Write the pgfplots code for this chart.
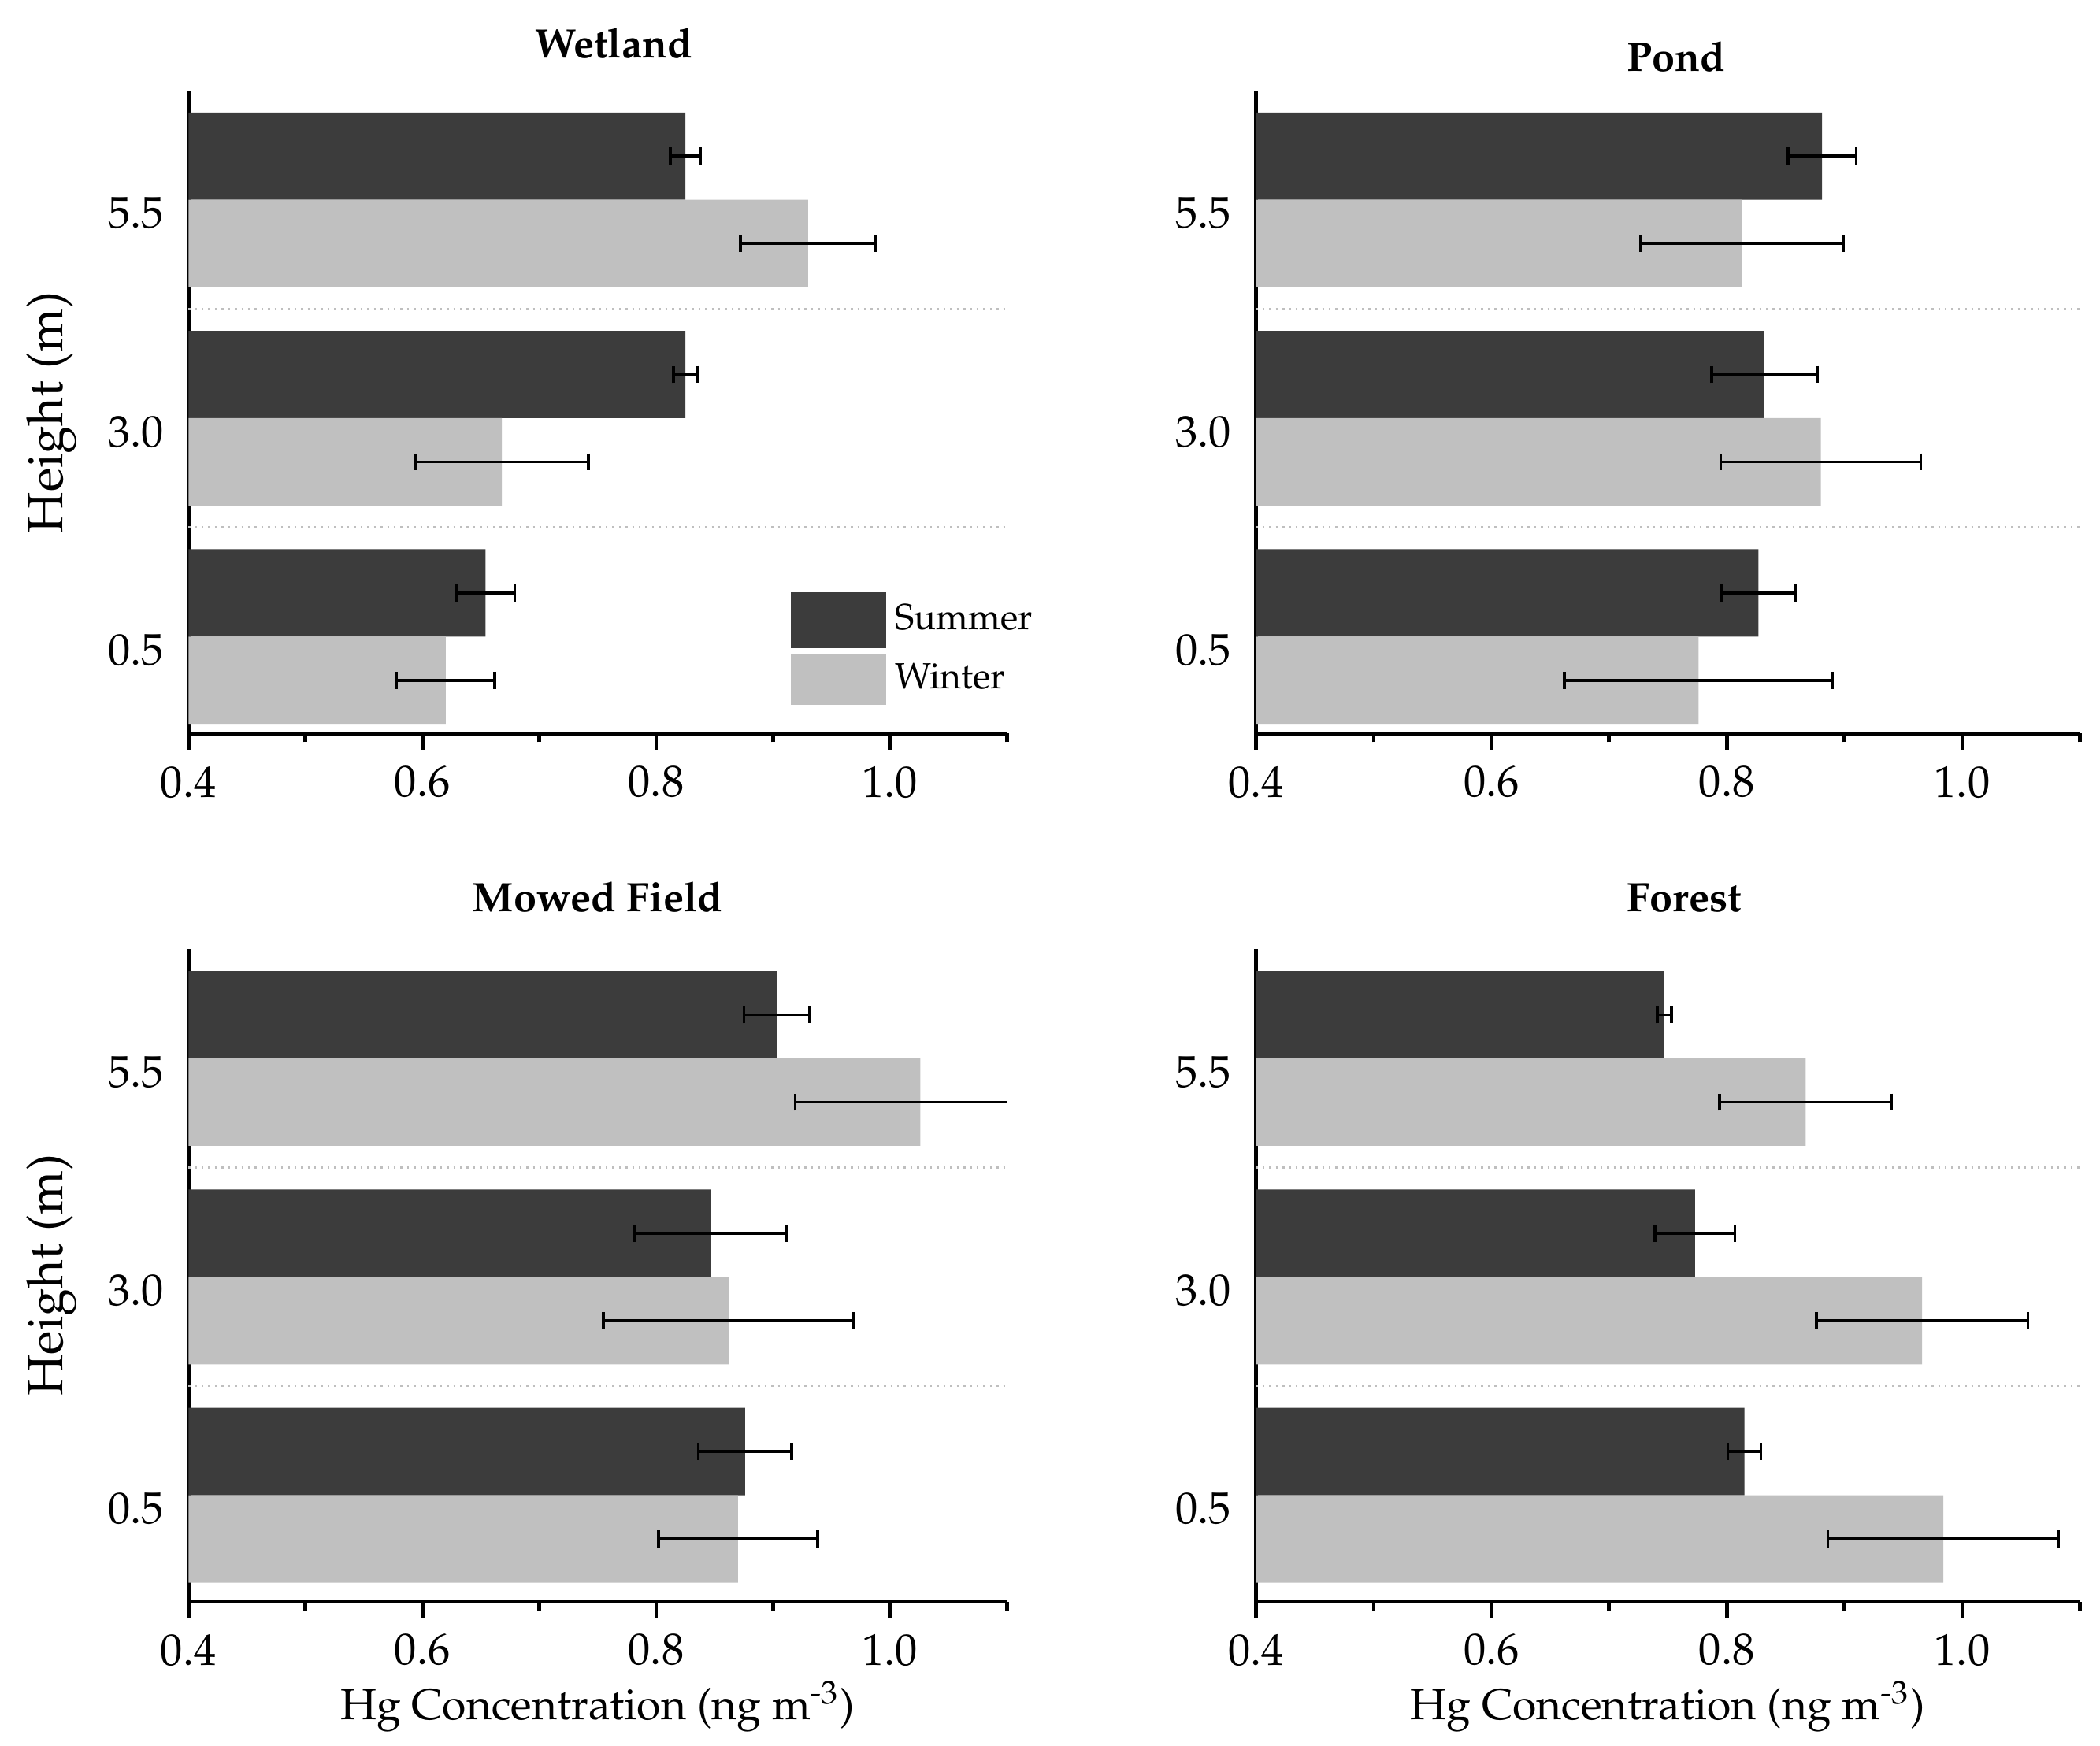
\documentclass[border=0pt]{standalone}
\usepackage[T1]{fontenc}
\usepackage{mathpazo}
\usepackage{pgfplots}
\pgfplotsset{compat=1.18}

\definecolor{summer}{RGB}{60,60,60}
\definecolor{winter}{RGB}{192,192,192}

\tikzset{titlefont/.style={font=\bfseries\fontsize{8.7}{10}\selectfont}}

\pgfplotsset{
  hgpanel/.style={
    scale only axis,
    xbar, bar width=0.4,
    xmin=0.4, xmax=1.1,
    axis x line*=bottom, axis y line*=left,
    axis line style={line width=0.8pt},
    xtick={0.4,0.6,0.8,1.0}, minor xtick={0.5,0.7,0.9,1.1},
    tick align=outside, major tick length=0.12cm, minor tick length=0.065cm,
    xtick style={black, line width=0.8pt},
    xticklabel style={/pgf/number format/.cd, fixed, fixed zerofill, precision=1},
    ticklabel style={font=\fontsize{9.4}{11}\selectfont},
    ytick={0,1,2}, yticklabels={0.5,3.0,5.5},
    ytick style={draw=none},
    yticklabel style={yshift=-0.1cm, xshift=0.06cm},
    extra y ticks={0.5,1.5}, extra y tick labels={},
    extra y tick style={grid=major, major grid style={gray!50, densely dotted, line width=0.4pt}},
    ylabel style={font=\fontsize{10.5}{12}\selectfont, at={(axis description cs:-0.167,0.5)}, anchor=center},
    xlabel style={font=\fontsize{9.2}{11}\selectfont, at={(axis description cs:0.5,-0.16)}, anchor=center},
  },
  errstyle/.style={
    error bars/.cd, x dir=both, x explicit, error mark=|,
    error bar style={line width=0.6pt, black},
    error mark options={black, mark size=1.8pt, line width=0.6pt}},
  summerbar/.style={fill=summer, draw=none, bar shift=0.2, errstyle},
  winterbar/.style={fill=winter, draw=none, bar shift=-0.2, errstyle},
}

\begin{document}
\begin{tikzpicture}
\useasboundingbox (0,0) rectangle (15.60,12.97);

% Wetland
\begin{axis}[hgpanel, at={(1.40cm,7.52cm)}, anchor=south west,
  width=6.08cm, height=4.77cm, ymin=-0.444, ymax=2.496,
  title=Wetland,
  title style={titlefont, at={(axis description cs:0.52,1)}, anchor=south, yshift=-0.09cm},
  ylabel=Height (m),
  legend style={at={(0.735,0.221)}, anchor=north west, draw=none, fill=none,
    inner sep=0pt, row sep=0.04cm, font=\fontsize{7.7}{9}\selectfont},
  legend cell align=left]
\addlegendimage{legend image code/.code={\fill[summer] (0cm,-0.2cm) rectangle (0.69cm,0.2cm);}}
\addlegendentry{Summer}
\addlegendimage{legend image code/.code={\fill[winter] (0cm,-0.18cm) rectangle (0.69cm,0.18cm);}}
\addlegendentry{Winter}
\addplot[summerbar] table[x=v, y=h, x error=e] {
h v e
2 0.825 0.013
1 0.825 0.010
0 0.654 0.025
};
\addplot[winterbar] table[x=v, y=h, x error=e] {
h v e
2 0.930 0.058
1 0.668 0.074
0 0.620 0.042
};
\end{axis}

% Pond
\begin{axis}[hgpanel, at={(9.33cm,7.52cm)}, anchor=south west,
  width=6.12cm, height=4.77cm, ymin=-0.444, ymax=2.496,
  title=Pond,
  title style={titlefont, at={(axis description cs:0.51,1)}, anchor=south, yshift=-0.19cm}]
\addplot[summerbar] table[x=v, y=h, x error=e] {
h v e
2 0.881 0.029
1 0.832 0.045
0 0.827 0.031
};
\addplot[winterbar] table[x=v, y=h, x error=e] {
h v e
2 0.813 0.086
1 0.880 0.085
0 0.776 0.114
};
\end{axis}

% Mowed Field
\begin{axis}[hgpanel, at={(1.40cm,1.07cm)}, anchor=south west,
  width=6.08cm, height=4.85cm, ymin=-0.487, ymax=2.502,
  title=Mowed Field,
  title style={titlefont, at={(axis description cs:0.5,1)}, anchor=south, yshift=-0.06cm},
  ylabel=Height (m),
  xlabel={Hg Concentration (ng m\textsuperscript{-3})}]
\addplot[summerbar] table[x=v, y=h, x error=e] {
h v e
2 0.903 0.028
1 0.847 0.065
0 0.876 0.040
};
\addplot[winterbar] table[x=v, y=h, x error=e] {
h v e
2 1.026 0.107
1 0.862 0.107
0 0.870 0.068
};
\end{axis}

% Forest
\begin{axis}[hgpanel, at={(9.33cm,1.07cm)}, anchor=south west,
  width=6.12cm, height=4.85cm, ymin=-0.487, ymax=2.502,
  title=Forest,
  title style={titlefont, at={(axis description cs:0.52,1)}, anchor=south, yshift=-0.06cm},
  xlabel={Hg Concentration (ng m\textsuperscript{-3})}]
\addplot[summerbar] table[x=v, y=h, x error=e] {
h v e
2 0.747 0.006
1 0.773 0.034
0 0.815 0.014
};
\addplot[winterbar] table[x=v, y=h, x error=e] {
h v e
2 0.867 0.073
1 0.966 0.090
0 0.984 0.098
};
\end{axis}
\end{tikzpicture}
\end{document}
